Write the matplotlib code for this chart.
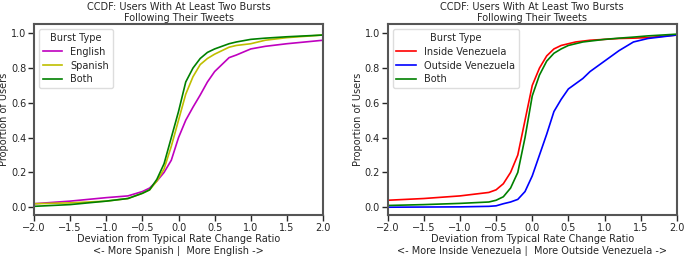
import numpy as np
import matplotlib
matplotlib.use("Agg")
import matplotlib.pyplot as plt

# left panel: language
lang_x = [-2.0, -1.5, -1.0, -0.7, -0.5, -0.4, -0.3, -0.2, -0.1, 0.0, 0.1, 0.2,
          0.3, 0.4, 0.5, 0.6, 0.7, 0.8, 1.0, 1.2, 1.5, 2.0]
english = [0.02, 0.035, 0.055, 0.065, 0.09, 0.11, 0.15, 0.2, 0.27, 0.4, 0.5, 0.575,
           0.645, 0.72, 0.78, 0.82, 0.86, 0.875, 0.91, 0.925, 0.94, 0.96]
spanish = [0.02, 0.025, 0.035, 0.05, 0.08, 0.1, 0.15, 0.22, 0.35, 0.5, 0.65, 0.75,
           0.82, 0.855, 0.88, 0.9, 0.92, 0.93, 0.94, 0.96, 0.975, 0.99]
both_lang = [0.005, 0.015, 0.035, 0.05, 0.08, 0.1, 0.16, 0.25, 0.4, 0.55, 0.72, 0.8,
             0.855, 0.89, 0.91, 0.925, 0.94, 0.95, 0.965, 0.972, 0.98, 0.99]

# right panel: location
loc_x = [-2.0, -1.5, -1.0, -0.6, -0.5, -0.4, -0.3, -0.2, -0.1, 0.0, 0.1, 0.2,
         0.3, 0.4, 0.5, 0.6, 0.7, 0.8, 1.0, 1.2, 1.4, 1.6, 2.0]
inside = [0.04, 0.05, 0.065, 0.085, 0.1, 0.135, 0.2, 0.3, 0.5, 0.7, 0.8, 0.87,
          0.91, 0.93, 0.94, 0.95, 0.955, 0.96, 0.965, 0.97, 0.972, 0.975, 0.99]
outside = [0.0, 0.001, 0.002, 0.005, 0.008, 0.02, 0.03, 0.045, 0.09, 0.18, 0.3, 0.42,
           0.55, 0.62, 0.68, 0.71, 0.74, 0.78, 0.84, 0.9, 0.95, 0.97, 0.99]
both_loc = [0.01, 0.015, 0.022, 0.03, 0.04, 0.06, 0.11, 0.2, 0.4, 0.64, 0.76, 0.84,
            0.885, 0.91, 0.93, 0.94, 0.95, 0.955, 0.965, 0.972, 0.978, 0.985, 0.995]

TEXT = "#262626"
FS = 7.0
plt.rcParams.update({
    "font.family": "DejaVu Sans",
    "font.size": FS,
    "text.color": TEXT,
    "axes.labelcolor": TEXT,
    "xtick.color": TEXT,
    "ytick.color": TEXT,
    "axes.edgecolor": "#555555",
    "axes.linewidth": 1.5,
    "xtick.major.width": 1.0,
    "ytick.major.width": 1.0,
    "xtick.major.size": 4,
    "ytick.major.size": 4,
    "xtick.major.pad": 1.5,
    "ytick.major.pad": 1.5,
})

fig = plt.figure(figsize=(6.85, 2.56), dpi=100)
ax1 = fig.add_axes([0.0496, 0.160, 0.422, 0.746])
ax2 = fig.add_axes([0.566, 0.160, 0.422, 0.746])

title = "CCDF: Users With At Least Two Bursts\nFollowing Their Tweets"

ax1.plot(lang_x, english, color="m", lw=1.2, label="English")
ax1.plot(lang_x, spanish, color="y", lw=1.2, label="Spanish")
ax1.plot(lang_x, both_lang, color="g", lw=1.2, label="Both")
ax1.set_xlabel("Deviation from Typical Rate Change Ratio\n<- More Spanish |  More English ->",
               labelpad=1, linespacing=1.15)

ax2.plot(loc_x, inside, color="r", lw=1.2, label="Inside Venezuela")
ax2.plot(loc_x, outside, color="b", lw=1.2, label="Outside Venezuela")
ax2.plot(loc_x, both_loc, color="g", lw=1.2, label="Both")
ax2.set_xlabel("Deviation from Typical Rate Change Ratio\n<- More Inside Venezuela |  More Outside Venezuela ->",
               labelpad=1, linespacing=1.15)

for ax in (ax1, ax2):
    ax.set_xlim(-2.0, 2.0)
    ax.set_ylim(-0.045, 1.053)
    ax.set_xticks(np.arange(-2.0, 2.01, 0.5))
    ax.set_yticks(np.arange(0.0, 1.01, 0.2))
    ax.set_ylabel("Proportion of Users", labelpad=1.5)
    ax.set_title(title, fontsize=FS, linespacing=1.1, pad=2)
    leg = ax.legend(title="Burst Type", loc="upper left", fontsize=FS,
                    title_fontsize=FS, framealpha=1.0, edgecolor="#dddddd",
                    fancybox=True, borderpad=0.4, labelspacing=0.4,
                    handlelength=2.0)

fig.savefig("out.png", dpi=100)
